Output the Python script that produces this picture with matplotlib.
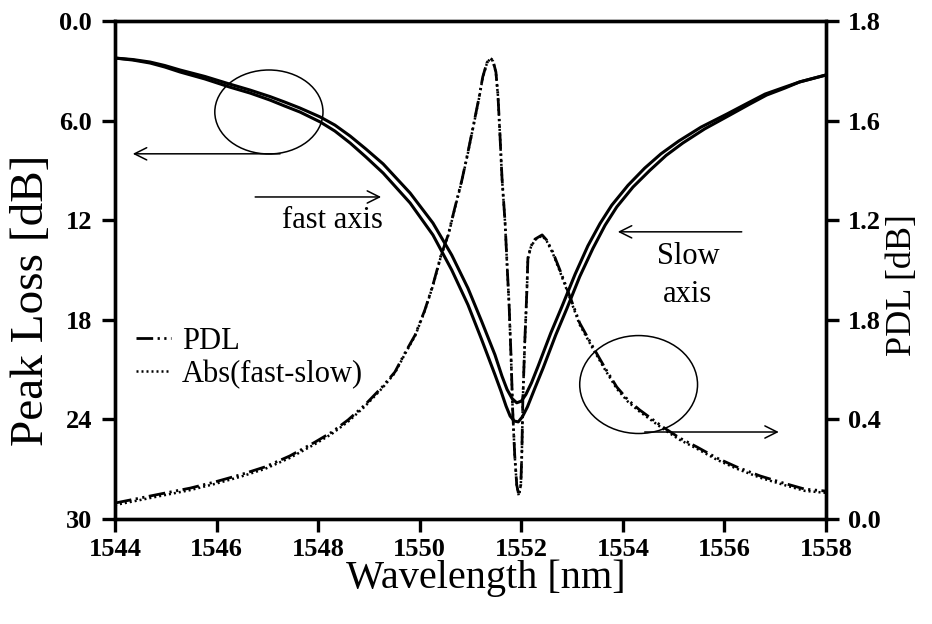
import matplotlib
matplotlib.use('Agg')
import matplotlib.pyplot as plt
from matplotlib.patches import Ellipse

plt.rcParams['font.family'] = ['Liberation Serif', 'DejaVu Serif']

# peak loss of the two polarisation axes [dB]
fast_wl = [1544.00, 1544.35, 1544.69, 1544.98, 1545.28, 1545.77, 1546.26, 1546.66,
           1547.05, 1547.34, 1547.64, 1548.04, 1548.33, 1548.63, 1548.94, 1549.28,
           1549.81, 1550.26, 1550.63, 1550.95, 1551.22, 1551.48, 1551.60, 1551.70,
           1551.78, 1551.86, 1551.94, 1552.02, 1552.12, 1552.27, 1552.43, 1552.68,
           1552.90, 1553.15, 1553.41, 1553.65, 1553.88, 1554.20, 1554.53, 1554.85,
           1555.18, 1555.61, 1556.11, 1556.50, 1556.83, 1557.19, 1557.48, 1558.00]
fast_loss = [2.23, 2.35, 2.53, 2.77, 3.07, 3.49, 3.98, 4.34,
             4.76, 5.12, 5.48, 6.08, 6.63, 7.35, 8.19, 9.16,
             10.96, 12.89, 15.0, 17.1, 19.2, 21.3, 22.3, 23.2,
             23.8, 24.1, 24.15, 23.85, 23.25, 22.1, 20.9, 18.9,
             17.3, 15.4, 13.7, 12.3, 11.2, 10.0, 9.0, 8.1,
             7.35, 6.5, 5.66, 5.0, 4.46, 4.04, 3.67, 3.25]

slow_wl = [1544.00, 1544.35, 1544.69, 1544.98, 1545.28, 1545.77, 1546.26, 1546.66,
           1547.05, 1547.34, 1547.64, 1548.04, 1548.33, 1548.63, 1548.94, 1549.28,
           1549.81, 1550.26, 1550.63, 1550.95, 1551.22, 1551.48, 1551.62, 1551.72,
           1551.82, 1551.91, 1552.00, 1552.09, 1552.20, 1552.33, 1552.58, 1552.80,
           1553.06, 1553.31, 1553.55, 1553.78, 1554.10, 1554.43, 1554.75, 1555.10,
           1555.54, 1556.05, 1556.46, 1556.80, 1557.17, 1557.48, 1558.00]
slow_loss = [2.23, 2.32, 2.47, 2.68, 2.95, 3.34, 3.80, 4.16,
             4.55, 4.88, 5.24, 5.78, 6.27, 6.93, 7.71, 8.61,
             10.36, 12.17, 14.1, 16.1, 18.1, 20.1, 21.4, 22.2,
             22.75, 23.0, 22.9, 22.5, 21.8, 20.8, 18.8, 17.2,
             15.25, 13.55, 12.2, 11.1, 9.9, 8.86, 8.0, 7.23,
             6.39, 5.6, 4.94, 4.4, 4.0, 3.67, 3.25]

# polarisation dependent loss and |fast - slow| [dB]
pdl_wl = [1544.00, 1544.49, 1544.98, 1545.48, 1545.97, 1546.46, 1546.95, 1547.44,
          1547.94, 1548.27, 1548.59, 1548.92, 1549.26, 1549.51, 1549.71, 1549.91,
          1550.10, 1550.26, 1550.42, 1550.56, 1550.69, 1550.83, 1550.95, 1551.07,
          1551.17, 1551.24, 1551.32, 1551.38, 1551.44, 1551.50, 1551.54, 1551.58,
          1551.62, 1551.68, 1551.72, 1551.76, 1551.80, 1551.83, 1551.87, 1551.91,
          1551.95, 1551.99, 1552.01, 1552.03, 1552.07, 1552.11, 1552.13, 1552.19,
          1552.27, 1552.41, 1552.50, 1552.62, 1552.76, 1552.96, 1553.15, 1553.41,
          1553.65, 1553.88, 1554.10, 1554.33, 1554.79, 1555.12, 1555.46, 1555.85,
          1556.24, 1556.70, 1557.15, 1557.58, 1558.00]
pdl = [0.064, 0.084, 0.104, 0.124, 0.149, 0.177, 0.209, 0.253,
       0.309, 0.349, 0.398, 0.458, 0.530, 0.590, 0.667, 0.739,
       0.839, 0.940, 1.060, 1.141, 1.249, 1.361, 1.474, 1.594,
       1.695, 1.775, 1.831, 1.851, 1.843, 1.795, 1.703, 1.542,
       1.369, 1.193, 1.020, 0.859, 0.639, 0.438, 0.257, 0.137,
       0.096, 0.137, 0.257, 0.478, 0.719, 0.920, 1.048, 1.096,
       1.124, 1.141, 1.120, 1.072, 1.000, 0.892, 0.787, 0.691,
       0.606, 0.530, 0.478, 0.438, 0.369, 0.325, 0.289, 0.245,
       0.209, 0.173, 0.145, 0.120, 0.112]
abs_diff = [0.056, 0.076, 0.096, 0.116, 0.141, 0.169, 0.201, 0.245,
            0.301, 0.342, 0.391, 0.452, 0.525, 0.586, 0.663, 0.736,
            0.836, 0.937, 1.057, 1.138, 1.246, 1.358, 1.471, 1.591,
            1.692, 1.772, 1.828, 1.848, 1.840, 1.792, 1.700, 1.540,
            1.367, 1.191, 1.018, 0.857, 0.637, 0.436, 0.255, 0.135,
            0.094, 0.135, 0.255, 0.476, 0.716, 0.917, 1.045, 1.093,
            1.121, 1.138, 1.116, 1.067, 0.994, 0.885, 0.780, 0.684,
            0.599, 0.523, 0.471, 0.431, 0.362, 0.318, 0.282, 0.238,
            0.202, 0.166, 0.138, 0.113, 0.105]

x_ticks = [1544, 1546, 1548, 1550, 1552, 1554, 1556, 1558]
loss_ticks = [0, 6, 12, 18, 24, 30]
loss_labels = ['0.0', '6.0', '12', '18', '24', '30']
pdl_ticks = [0.0, 0.4, 0.8, 1.2, 1.6, 2.0]
pdl_labels = ['0.0', '0.4', '1.8', '1.2', '1.6', '1.8']

fig = plt.figure(figsize=(9.32, 6.24), dpi=100)
ax = fig.add_axes([0.1234, 0.1683, 0.7629, 0.798])
ax2 = ax.twinx()

ax.plot(fast_wl, fast_loss, color='black', lw=2.2, solid_capstyle='round', solid_joinstyle='round')
ax.plot(slow_wl, slow_loss, color='black', lw=2.2, solid_capstyle='round', solid_joinstyle='round')
ax.set_xlim(1544, 1558)
ax.set_ylim(30, 0)

ax2.plot(pdl_wl, pdl, color='black', lw=2.0, linestyle=(0, (6, 1.6, 0.8, 1.6, 0.8, 1.6)), label='PDL')
ax2.plot(pdl_wl, abs_diff, color='black', lw=1.8, linestyle=(0, (0.8, 1.2)), label='Abs(fast-slow)')
ax2.set_ylim(0, 2.0)

for a in (ax, ax2):
    for s in a.spines.values():
        s.set_linewidth(2.4)
    a.tick_params(direction='out', length=9.5, width=2.4, labelsize=19)
ax.tick_params(axis='y', pad=7)
ax.tick_params(axis='x', pad=4)
ax2.tick_params(axis='y', pad=6)

ax.set_xticks(x_ticks)
ax.set_xticklabels([str(v) for v in x_ticks], fontweight='bold')
ax.set_yticks(loss_ticks)
ax.set_yticklabels(loss_labels, fontweight='bold')
ax2.set_yticks(pdl_ticks)
ax2.set_yticklabels(pdl_labels, fontweight='bold')

ax.set_xlabel('Wavelength [nm]', fontsize=29)
ax.set_ylabel('Peak Loss [dB]', fontsize=34)
ax2.set_ylabel('PDL [dB]', fontsize=26)
ax.xaxis.set_label_coords(0.522, -0.12)
ax.yaxis.set_label_coords(-0.117, 0.44)
ax2.yaxis.set_label_coords(1.107, 0.47)
ax.xaxis.label.set_verticalalignment('center')
ax.yaxis.label.set_verticalalignment('center')
ax2.yaxis.label.set_verticalalignment('center')

ax2.legend(loc='upper left', bbox_to_anchor=(0.012, 0.41), frameon=False, fontsize=22,
           handlelength=1.15, handletextpad=0.35, labelspacing=0.12, borderaxespad=0)

# markers pointing each curve group to its axis
ax.add_patch(Ellipse((1547.03, 5.48), 2.13, 5.06, fill=False, lw=1.1, color='black'))
ax.add_patch(Ellipse((1554.31, 21.9), 2.32, 5.9, fill=False, lw=1.1, color='black'))
arrow = dict(arrowstyle='->', lw=1.1, color='black', mutation_scale=22, shrinkA=0, shrinkB=0)
ax.annotate('', xy=(1544.35, 8.0), xytext=(1547.25, 8.0), arrowprops=arrow)
ax.annotate('', xy=(1557.07, 24.76), xytext=(1554.43, 24.76), arrowprops=arrow)
ax.annotate('', xy=(1549.24, 10.6), xytext=(1546.76, 10.6), arrowprops=arrow)
ax.annotate('', xy=(1553.90, 12.7), xytext=(1556.34, 12.7), arrowprops=arrow)

ax.text(1548.29, 12.0, 'fast axis', fontsize=22, ha='center', va='center')
ax.text(1555.28, 14.16, 'Slow', fontsize=22, ha='center', va='center')
ax.text(1555.28, 16.5, 'axis', fontsize=22, ha='center', va='center')

fig.savefig('out.png', dpi=100)
